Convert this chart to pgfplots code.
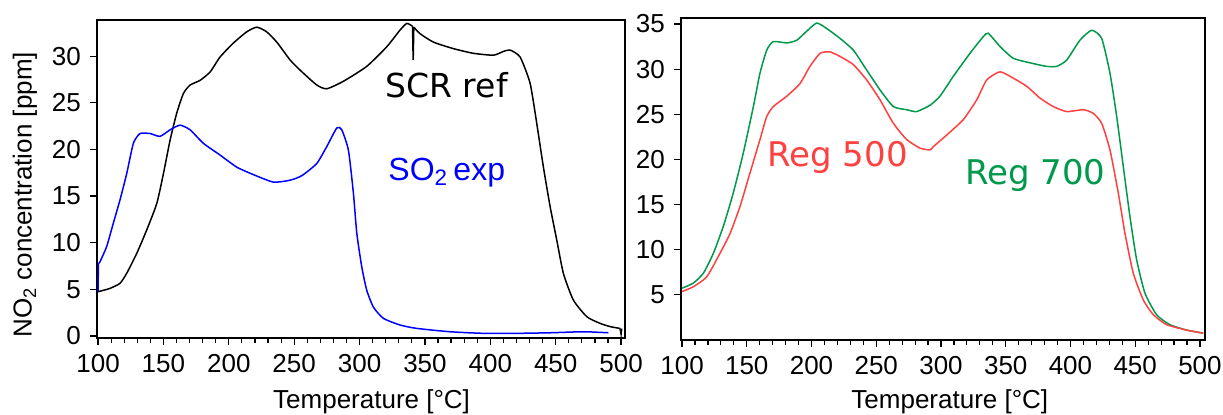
\documentclass[border=0pt]{standalone}
\usepackage{pgfplots}
\pgfplotsset{compat=1.18}
\usepackage{fontspec}
\setmainfont{Liberation Sans}
\newfontfamily\dejavu{DejaVu Sans}
\definecolor{regred}{RGB}{255,64,64}
\definecolor{reggreen}{RGB}{0,153,76}
\definecolor{soblue}{RGB}{0,0,255}
\begin{document}
\fontsize{13}{15}\selectfont
\begin{tikzpicture}
\path[use as bounding box] (-48.5pt,-38pt) rectangle (563pt,169pt);
\pgfplotsset{
  every axis/.append style={
    scale only axis,
    font=\fontsize{13}{15}\selectfont,
    /pgf/number format/assume math mode=true,
    axis line style={line width=0.6pt},
    tick style={black, line width=0.6pt},
    xtick pos=bottom, ytick pos=left,
    tick align=outside,
    major tick length=3.6pt,
    minor tick length=2.5pt,
    xtick={100,150,...,500},
    minor x tick num=4,
    xmin=99.2,
    scaled ticks=false,
    every axis plot/.append style={line width=0.75pt},
  }
}
% ---------------- left axis ----------------
\begin{axis}[
  width=264pt, height=159pt,
  xmax=503, ymin=-0.21, ymax=33.87,
  ytick={0,5,...,30},
  xlabel={Temperature [°C]},
  ylabel={NO\textsubscript{2} concentration [ppm]},
  xlabel style={at={([yshift=-35pt]axis description cs:0.52,0)}, anchor=base},
  ylabel style={at={([xshift=-36pt]axis description cs:0,0.45)}, anchor=center, rotate=0},
]
\addplot[black, smooth, tension=0.35] coordinates {
(100,4.75)(104,4.9)(109,5.1)(116.8,5.65)(121.9,6.72)(129.6,8.86)(137.2,11.36)(144.9,14.2)
(150,17.4)(155.1,21.0)(160.2,23.9)(165.3,26.0)(170.4,26.9)(178,27.4)(185.7,28.3)
(193.3,29.9)(203.5,31.4)(213.7,32.6)(221.4,33.1)(229,32.6)(236.7,31.5)(246.8,29.6)
(254.5,28.5)(267.3,26.9)(274.9,26.5)(287.6,27.3)(305.5,28.9)(320.8,31.0)(331,32.8)
(336.1,33.5)(340.5,33.2)
};
\addplot[black] coordinates {(340.5,33.2)(341,29.6)(341.5,33.1)};
\addplot[black, smooth, tension=0.35] coordinates {
(341.5,33.1)(346.3,32.4)(356.5,31.5)(371.8,30.8)
(387.1,30.3)(402.4,30.1)(410,30.5)(415.1,30.65)(422.8,29.9)(430.4,27.1)(435.5,22.8)
(440.6,18.1)(445.7,13.9)(450.8,10.3)(455.9,6.7)(463.5,3.86)(473.8,2.07)(483.9,1.36)
(492,1.0)(499.2,0.82)
};
\addplot[black] coordinates {(499.2,0.82)(500,0.2)(500.5,0.8)};
\addplot[soblue] coordinates {(100,4.8)(100.3,7.8)};
\addplot[soblue, smooth, tension=0.35] coordinates {
(100.3,7.8)(101.3,7.9)(106.6,9.6)(111.7,12.1)(116.8,14.6)(121.9,17.4)
(127,20.65)(132.1,21.7)(139.8,21.7)(147.4,21.4)(155.1,22.1)(162.7,22.6)(170.4,22.1)
(180.6,20.65)(193.3,19.4)(206.1,18.1)(218.8,17.3)(234.1,16.5)(246.8,16.7)(256,17.2)
(267.3,18.5)(274.9,20.3)(282.6,22.3)(286.4,22.1)(291.5,19.9)(295.3,15.3)(297.9,11.0)
(301.7,7.4)(305.5,4.9)(310.6,3.1)(318.2,1.9)(331,1.18)(343.7,0.82)(369.2,0.46)
(394.7,0.29)(420.2,0.29)(445.7,0.35)(471.2,0.46)(490.3,0.35)
};
\node[anchor=base west, inner sep=0pt, font=\dejavu\fontsize{16.5}{18}\selectfont] at (axis cs:319.5,25.6) {SCR ref};
\node[anchor=base west, inner sep=0pt, text=soblue, font=\fontsize{16}{18}\selectfont] at (axis cs:321.8,16.7) {SO\textsubscript{2}\,exp};
\end{axis}
% ---------------- right axis ----------------
\begin{axis}[
  at={(292pt,-1pt)},
  width=262pt, height=161pt,
  xmax=503.9, ymin=0, ymax=35.66,
  ytick={5,10,...,35},
  xlabel={Temperature [°C]},
  xlabel style={at={([yshift=-34pt]axis description cs:0.513,0)}, anchor=base},
]
\addplot[reggreen, smooth, tension=0.35] coordinates {
(100,5.74)(108.7,6.3)(116.5,7.4)(124.2,9.6)(131.9,12.6)(139.6,16.3)(147.3,20.7)
(155.1,25.85)(160.2,29.55)(165.4,32.1)(170.5,33.05)(180.9,32.9)(188.6,33.2)(196.3,34.2)
(204,35.1)(211.7,34.5)(222,33.4)(232.3,32.1)(242.6,29.9)(252.9,27.7)(263.2,25.85)
(273.5,25.5)(281.2,25.3)(291.5,26.0)(299.2,27.0)(309.5,29.2)(322.4,31.75)(332.7,33.6)
(336.5,33.97)(345.6,32.5)(355.8,31.2)(368.7,30.7)(381.6,30.3)(389.3,30.3)(397.1,31.0)
(407.3,33.2)(416.4,34.3)(424.1,33.4)(430.5,29.55)(435.7,24.75)(440.8,19.2)(445.9,13.7)
(451.1,8.9)(457.5,5.2)(466.5,2.8)(476.8,1.7)(489.7,1.1)(502.5,0.76)
};
\addplot[regred, smooth, tension=0.35] coordinates {
(100,5.37)(108.7,5.9)(119.1,7.0)(129.3,9.6)(137.1,11.8)(144.8,14.8)(152.5,18.5)
(160.2,22.2)(165.4,24.75)(170.5,25.85)(180.9,27.0)(191.1,28.4)(198.8,30.3)(206.6,31.75)
(214.3,31.9)(222,31.4)(232.3,30.5)(242.6,28.8)(252.9,26.6)(263.2,24.0)(273.5,22.2)
(283.8,21.25)(291.5,21.05)(294,21.4)(304.4,22.7)(317.2,24.4)(327.6,26.6)(335.3,28.8)
(345.6,29.7)(355.8,29.0)(366.2,28.1)(376.4,26.8)(386.7,25.85)(397.1,25.3)(409.9,25.5)
(417.6,25.1)(424.1,24.0)(430.5,21.05)(436.9,16.3)(442.1,11.8)(448.5,7.4)(456.2,4.45)
(464,2.8)(474.3,1.7)(489.7,1.1)(502.5,0.76)
};
\node[anchor=base west, inner sep=0pt, text=regred, font=\dejavu\fontsize{17}{19}\selectfont] at (axis cs:165.6,19.2) {Reg 500};
\node[anchor=base west, inner sep=0pt, text=reggreen, font=\dejavu\fontsize{17}{19}\selectfont] at (axis cs:318.5,17.2) {Reg 700};
\end{axis}
\end{tikzpicture}
\end{document}
